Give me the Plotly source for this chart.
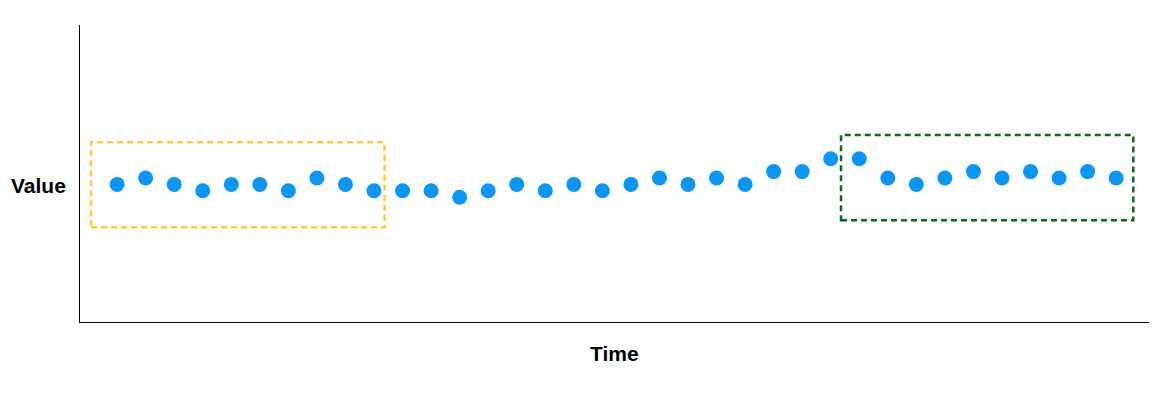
import plotly.graph_objects as go

# time steps and observed values
time = list(range(36))
value = [2, 3, 2, 1, 2, 2, 1, 3, 2, 1,
         1, 1, 0, 1, 2, 1, 2, 1, 2, 3,
         2, 3, 2, 4, 4, 6, 6, 3, 2, 3,
         4, 3, 4, 3, 4, 3]

# highlighted windows (start/end on the time axis, low/high on the value axis)
window_names = ['baseline', 'recent']
window_x = [(-0.91, 9.37), (25.36, 35.6)]
window_y = [(-4.7, 8.6), (-3.6, 9.7)]
window_colors = ['#FFCC33', '#0B6B1F']


def plot_windows(time, value):
    fig = go.Figure()
    fig.add_trace(go.Scatter(
        x = time,
        y = value,
        mode = 'markers',
        marker = dict(size = 15, color = '#0A96F8'),
        hoverinfo = 'x+y'
    ))

    for name, (x0, x1), (y0, y1), col in zip(window_names, window_x, window_y, window_colors):
        fig.add_shape(
            type = 'rect',
            x0 = x0, x1 = x1, y0 = y0, y1 = y1,
            xref = 'x', yref = 'y',
            line = dict(color = col, width = 2.5, dash = '6px,4px'),
            name = name
        )

    # page body has an 8px margin, so the figure is a bit smaller than the window
    fig.update_layout(
        width = 1157,
        height = 384,
        margin = dict(l = 72, r = 16, t = 17, b = 70),
        plot_bgcolor = 'white',
        paper_bgcolor = 'white',
        showlegend = False,
        font = dict(family = 'Liberation Sans, Arial, sans-serif', color = 'black'),
        xaxis = dict(
            range = [-1.3, 36.15],
            showline = True,
            linewidth = 1,
            linecolor = 'black',
            showgrid = False,
            zeroline = False,
            showticklabels = False,
            ticks = ''
        ),
        yaxis = dict(
            range = [-19.5, 26.9],
            showline = True,
            linewidth = 1,
            linecolor = 'black',
            showgrid = False,
            zeroline = False,
            showticklabels = False,
            ticks = ''
        ),
        annotations = [
            dict(text = '<b>Value</b>', x = 0, y = 0.458, xref = 'paper', yref = 'paper',
                 xanchor = 'right', xshift = -12,
                 showarrow = False, font = dict(size = 21)),
            dict(text = '<b>Time</b>', x = 0.5, y = -0.06, xref = 'paper', yref = 'paper',
                 yanchor = 'top',
                 showarrow = False, font = dict(size = 21))
        ]
    )

    return(fig)


fig = plot_windows(time, value)
fig.write_html('out.html')
